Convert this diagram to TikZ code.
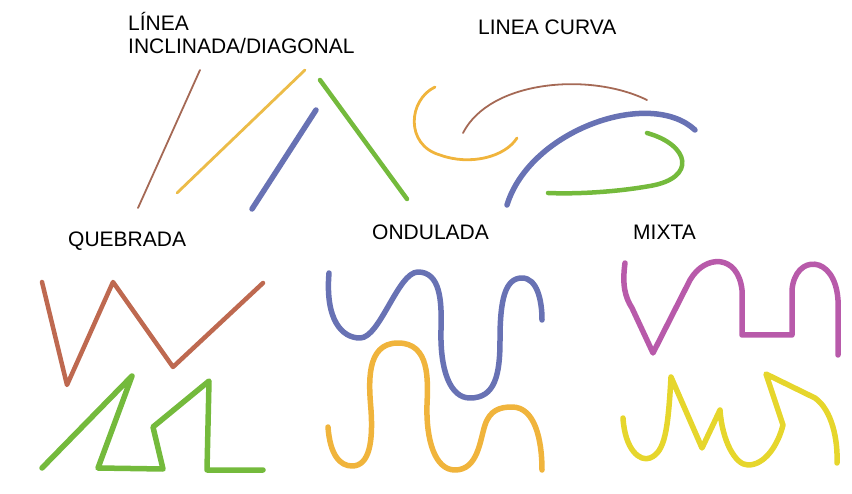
\documentclass[tikz,border=0pt]{standalone}
\usepackage{fontspec}
\setmainfont{Liberation Sans}
\usepackage{xcolor}
\definecolor{lnBrown}  {RGB}{165, 105,  85}
\definecolor{lnRust}   {RGB}{190, 105,  80}
\definecolor{lnOchre}  {RGB}{236, 188,  72}
\definecolor{lnOrange} {RGB}{240, 180,  60}
\definecolor{lnBlue}   {RGB}{104, 114, 180}
\definecolor{lnGreen}  {RGB}{116, 186,  60}
\definecolor{lnMagenta}{RGB}{184,  90, 170}
\definecolor{lnLemon}  {RGB}{230, 214,  44}

\begin{document}
\begin{tikzpicture}[
  x=1pt, y=-1pt,
  lbl/.style = {inner sep=0pt, font=\fontsize{21}{23}\selectfont},
  ln/.style  = {line cap=round, line join=round},
  thin ln/.style  = {ln, line width=1.8pt},
  mid ln/.style   = {ln, line width=2.8pt},
  thick ln/.style = {ln, line width=4.5pt},
  fat ln/.style   = {ln, line width=5.5pt}
]
  \useasboundingbox (0,0) rectangle (852,494);

  % labels
  \node[lbl, anchor=north west, align=left] (incl) at (128,12)
    {LÍNEA\\INCLINADA/DIAGONAL};
  \node[lbl, anchor=base west] (curva) at (478,35) {LINEA CURVA};
  \node[lbl, anchor=base west] (quebr) at (68,247) {QUEBRADA};
  \node[lbl, anchor=base west] (ondul) at (372,240) {ONDULADA};
  \node[lbl, anchor=base west] (mixta) at (633,240) {MIXTA};

  % inclinada / diagonal
  \draw[thin ln, lnBrown]  (200,70) -- (138,208);
  \draw[mid ln, lnOchre]   (305,70) -- (177,193);
  \draw[fat ln, lnBlue]    (316,110) -- (252,209);
  \draw[thick ln, lnGreen] (320,80) -- (407,199);

  % curva
  \draw[mid ln, lnOrange] (435,87) .. controls (408,100) and (405,145) .. (440,155)
    .. controls (470,166) and (505,157) .. (517,138);
  \draw[thin ln, lnBrown] (463,133) .. controls (490,80) and (590,72) .. (647,100);
  \draw[fat ln, lnBlue] (507,205) .. controls (530,130) and (650,88) .. (695,130);
  \draw[thick ln, lnGreen] (647,133) .. controls (690,145) and (697,178) .. (650,186)
    .. controls (610,193) and (570,194) .. (548,193);

  % quebrada
  \draw[thick ln, lnRust] (42,282) -- (67,385) -- (113,282) -- (173,367) -- (263,283);
  \draw[fat ln, lnGreen] (42,468) -- (132,376) -- (98,468) -- (163,469) -- (153,427)
    -- (209,381) -- (207,470) -- (263,470);

  % ondulada
  \draw[fat ln, lnBlue] (329,273) .. controls (325,320) and (342,338) .. (360,338)
    .. controls (380,338) and (398,272) .. (418,272)
    .. controls (440,272) and (442,300) .. (441,330)
    .. controls (440,370) and (450,398) .. (470,398)
    .. controls (495,398) and (500,375) .. (500,340)
    .. controls (500,300) and (505,278) .. (522,278)
    .. controls (537,278) and (542,300) .. (542,320);
  \draw[fat ln, lnOrange] (328,427) .. controls (330,455) and (340,466) .. (352,466)
    .. controls (370,466) and (373,440) .. (371,410)
    .. controls (369,385) and (365,343) .. (398,343)
    .. controls (430,343) and (428,380) .. (427,405)
    .. controls (426,440) and (435,470) .. (455,470)
    .. controls (478,470) and (480,440) .. (485,425)
    .. controls (490,410) and (500,407) .. (512,407)
    .. controls (535,407) and (542,440) .. (542,470);

  % mixta
  \draw[fat ln, lnMagenta] (625,263) .. controls (622,285) and (625,297) .. (632,308)
    -- (653,353) -- (690,280) .. controls (705,254) and (738,254) .. (742,290)
    -- (742,335) -- (792,335) -- (792,290)
    .. controls (795,254) and (835,254) .. (838,300) -- (838,355);
  \draw[fat ln, lnLemon] (623,418) .. controls (625,450) and (640,462) .. (650,458)
    .. controls (665,452) and (668,430) .. (671,377) -- (702,448) -- (720,410)
    .. controls (722,440) and (735,465) .. (748,465)
    .. controls (765,465) and (778,445) .. (783,425) -- (766,374) -- (815,398)
    .. controls (832,410) and (838,440) .. (837,463);
\end{tikzpicture}
\end{document}
